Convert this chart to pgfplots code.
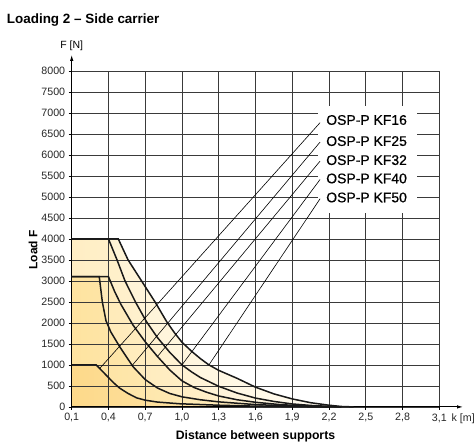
\documentclass[border=0pt]{standalone}
\usepackage{fontspec}
\setmainfont{Liberation Sans}
\newfontfamily\medfont{Liberation Sans}[FakeBold=0.6]
\usepackage{pgfplots}
\pgfplotsset{compat=1.18}
\usetikzlibrary{arrows.meta}

\definecolor{fA1}{HTML}{FFF2D0}\definecolor{fA2}{HTML}{FFFCF4}
\definecolor{fB1}{HTML}{FFEEC4}\definecolor{fB2}{HTML}{FFF9EA}
\definecolor{fC1}{HTML}{FFE9B4}\definecolor{fC2}{HTML}{FFF5DC}
\definecolor{fD1}{HTML}{FEE3A0}\definecolor{fD2}{HTML}{FFF1CC}
\definecolor{fE1}{HTML}{FDD98A}\definecolor{fE2}{HTML}{FEEBC0}
\definecolor{gridc}{HTML}{3A3A3A}

\pgfplotstableread{
x y
0.1 4000
0.48 4000
0.56 3500
0.67 3000
0.78 2500
0.875 2030
0.94 1760
1.0 1540
1.08 1320
1.15 1150
1.22 1000
1.3 870
1.45 680
1.6 470
1.75 310
1.9 190
2.05 100
2.2 40
2.3 10
2.4 0
}\kfL

\pgfplotstableread{
x y
0.1 4000
0.4 4000
0.435 3750
0.47 3500
0.535 3000
0.62 2500
0.71 2030
0.8 1650
0.9 1300
1.0 1000
1.08 830
1.15 700
1.3 490
1.45 330
1.6 210
1.75 130
1.9 70
2.05 35
2.2 12
2.3 0
}\kfK

\pgfplotstableread{
x y
0.1 3100
0.4 3100
0.45 2750
0.5 2450
0.6 1950
0.7 1550
0.8 1200
0.9 880
1.0 620
1.1 460
1.2 350
1.3 260
1.45 170
1.6 110
1.8 55
2.0 22
2.2 6
2.3 0
}\kfJ

\pgfplotstableread{
x y
0.1 3100
0.325 3100
0.35 2500
0.38 2050
0.42 1780
0.49 1440
0.6 960
0.7 650
0.8 450
0.9 320
1.0 240
1.15 170
1.3 120
1.6 55
1.9 20
2.2 0
}\kfI

\pgfplotstableread{
x y
0.1 1000
0.3 1000
0.34 880
0.39 730
0.44 580
0.49 450
0.56 320
0.63 215
0.7 160
0.8 115
0.98 75
1.3 40
1.6 18
1.9 6
2.2 0
}\kfH

\begin{document}
\begin{tikzpicture}
\useasboundingbox (-71.7bp,-37.1bp) rectangle (402.3bp,406.9bp);
\begin{axis}[
  at={(0,0)}, anchor=south west,
  scale only axis, width=367.6bp, height=336bp,
  xmin=0.1, xmax=3.1, ymin=0, ymax=8000,
  axis lines=left, axis line style={-, line width=0.9bp, black},
  xtick={0.1,0.4,0.7,1.0,1.3,1.6,1.9,2.2,2.5,2.8,3.1},
  xticklabels={{0,1},{0,4},{0,7},{1,0},{1,3},{1,6},{1,9},{2,2},{2,5},{2,8},{3,1\rlap{\hspace{5bp}k [m]}}},
  ytick={0,500,1000,1500,2000,2500,3000,3500,4000,4500,5000,5500,6000,6500,7000,7500,8000},
  scaled y ticks=false,
  y tick label style={/pgf/number format/1000 sep={}},
  /pgf/number format/assume math mode=true,
  ticklabel style={font=\fontsize{10.7}{12}\selectfont, text=black!85},
  grid=major, major grid style={gridc, line width=0.6bp},
  tick style={black, line width=0.6bp}, tick align=outside, major tick length=3bp,
  clip=false,
]
% filled areas
\addplot[draw=none, left color=fA1, right color=fA2] table {\kfL} \closedcycle;
\addplot[draw=none, left color=fB1, right color=fB2] table {\kfK} \closedcycle;
\addplot[draw=none, left color=fC1, right color=fC2] table {\kfJ} \closedcycle;
\addplot[draw=none, left color=fD1, right color=fD2] table {\kfI} \closedcycle;
\addplot[draw=none, left color=fE1, right color=fE2] table {\kfH} \closedcycle;
% grid redrawn over the fills
\pgfplotsinvokeforeach{0.4,0.7,1.0,1.3,1.6,1.9,2.2,2.5,2.8,3.1}{
  \draw[gridc, line width=0.6bp] (axis cs:#1,0) -- (axis cs:#1,8000);}
\pgfplotsinvokeforeach{500,1000,1500,2000,2500,3000,3500,4000,4500,5000,5500,6000,6500,7000,7500,8000}{
  \draw[gridc, line width=0.6bp] (axis cs:0.1,#1) -- (axis cs:3.1,#1);}
\draw[black, line width=0.9bp] (axis cs:0.1,0) -- (axis cs:0.1,8000);
\draw[black, line width=0.9bp] (axis cs:0.1,0) -- (axis cs:3.1,0);
% curves
\addplot[black!90, line width=1.5bp] table {\kfL};
\addplot[black!90, line width=1.5bp] table {\kfK};
\addplot[black!90, line width=1.5bp] table {\kfJ};
\addplot[black!90, line width=1.5bp] table {\kfI};
\addplot[black!90, line width=1.5bp] table {\kfH};
% label box
\fill[white] (axis cs:2.114,4610) rectangle (axis cs:2.92,7165);
% leader lines
\draw[black, line width=0.6bp] (axis cs:0.33,920) -- (axis cs:2.127,6768);
\draw[black, line width=0.6bp] (axis cs:0.59,975) -- (axis cs:2.127,6305);
\draw[black, line width=0.6bp] (axis cs:0.8,1200) -- (axis cs:2.127,5852);
\draw[black, line width=0.6bp] (axis cs:1.0,1000) -- (axis cs:2.127,5415);
\draw[black, line width=0.6bp] (axis cs:1.22,1000) -- (axis cs:2.127,4955);
\begin{scope}[every node/.style={anchor=west, inner sep=0pt, font=\medfont\fontsize{14}{16}\selectfont}]
\node at (axis cs:2.176,6831) {OSP-P KF16};
\node at (axis cs:2.176,6329) {OSP-P KF25};
\node at (axis cs:2.176,5876) {OSP-P KF32};
\node at (axis cs:2.176,5439) {OSP-P KF40};
\node at (axis cs:2.176,4986) {OSP-P KF50};
\end{scope}
\end{axis}
% axis arrows
\draw[-{Latex[length=6bp,width=3.5bp]}, line width=0.9bp] (0,336bp) -- (0,352bp);
\draw[-{Latex[length=6bp,width=3.5bp]}, line width=0.9bp] (367.6bp,0) -- (391.3bp,0);
\node[anchor=base, inner sep=0pt, font=\fontsize{10.5}{12}\selectfont] at (0,358.6bp) {F [N]};
\node[anchor=base west, inner sep=0pt, font=\bfseries\fontsize{13.5}{15}\selectfont] at (-65bp,382.9bp) {Loading 2 – Side carrier};
\node[anchor=base, inner sep=0pt, font=\bfseries\fontsize{12.3}{14}\selectfont] at (183.8bp,-33bp) {Distance between supports};
\node[rotate=90, anchor=center, inner sep=0pt, font=\bfseries\fontsize{12}{14}\selectfont] at (-38.7bp,157bp) {Load F};
\end{tikzpicture}
\end{document}
